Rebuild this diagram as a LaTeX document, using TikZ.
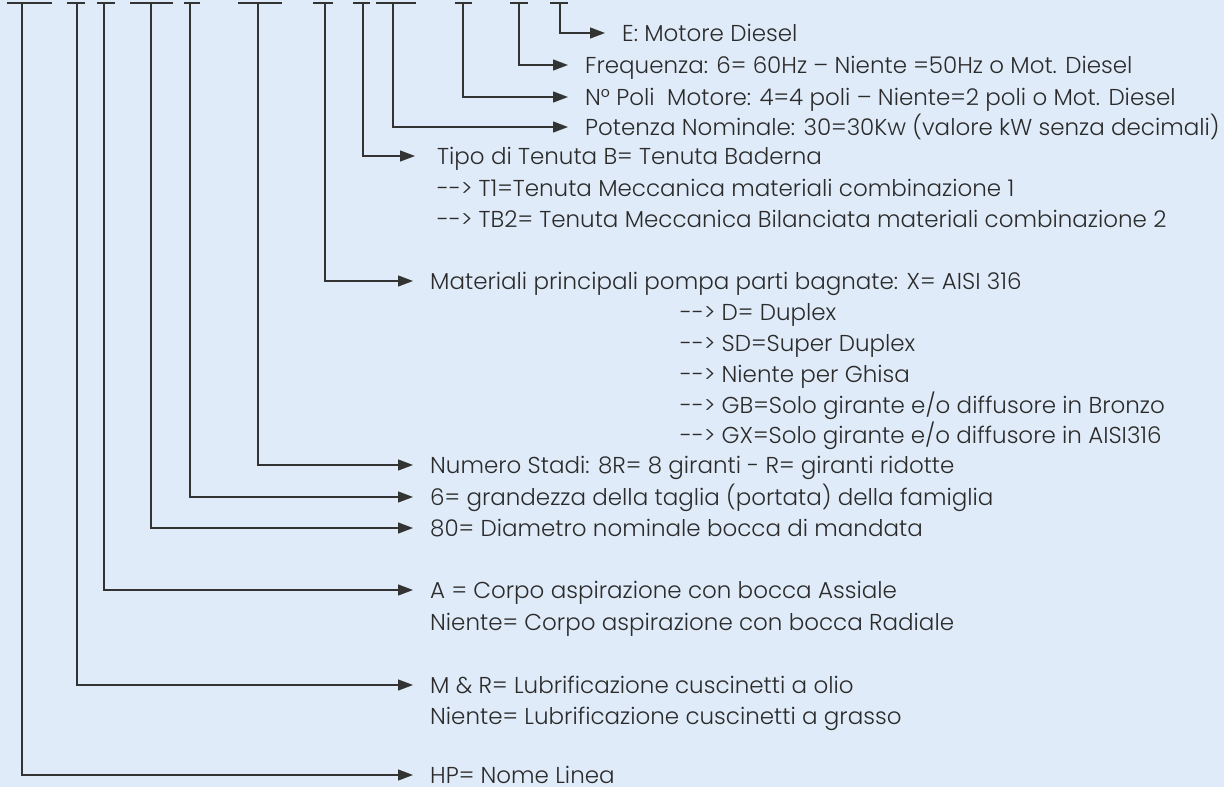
\documentclass[tikz,border=0pt]{standalone}
\usepackage{fontspec}
\setmainfont{Poppins Light}
\usepackage{tikz}
\usetikzlibrary{arrows.meta}
\definecolor{sfondo}{rgb}{0.875, 0.922, 0.973}
\definecolor{linea}{rgb}{0.2, 0.2, 0.2}
\definecolor{testo}{rgb}{0.17, 0.17, 0.17}
\tikzstyle{lbl}=[anchor=west,inner sep=0pt,text height=16pt,text depth=0pt,text=testo,font=\fontsize{23}{25}\selectfont]
\tikzstyle{conn}=[draw=linea,line width=1.3pt,-{Triangle[length=15pt,width=11pt]}]
\tikzstyle{bar}=[draw=linea,line width=1.3pt]

\begin{document}
\begin{tikzpicture}[x=1pt,y=-1pt]
\useasboundingbox[fill=sfondo] (0,0) rectangle (1224,787);
% barre in alto
\draw[bar] (7,3) -- (52,3);
\draw[bar] (67,3) -- (85,3);
\draw[bar] (97,3) -- (115,3);
\draw[bar] (130,3) -- (173,3);
\draw[bar] (184,3) -- (200,3);
\draw[bar] (238,3) -- (282,3);
\draw[bar] (313,3) -- (333,3);
\draw[bar] (353,3) -- (370,3);
\draw[bar] (376,3) -- (416,3);
\draw[bar] (455,3) -- (472,3);
\draw[bar] (510,3) -- (528,3);
\draw[bar] (550,3) -- (568,3);
\coordinate (tHP) at (22,3);
\coordinate (tMR) at (77,3);
\coordinate (tA) at (104,3);
\coordinate (tDN) at (151,3);
\coordinate (tTaglia) at (190,3);
\coordinate (tStadi) at (258,3);
\coordinate (tMat) at (325,3);
\coordinate (tTen) at (363,3);
\coordinate (tPot) at (393,3);
\coordinate (tPoli) at (463,3);
\coordinate (tFreq) at (519,3);
\coordinate (tMot) at (560,3);
% testi
\node[lbl] (lMot) at (622,33) {E: Motore Diesel};
\node[lbl] (lFreq) at (585,65) {Frequenza: 6= 60Hz -- Niente =50Hz o Mot. Diesel};
\node[lbl] (lPoli) at (585,97) {N° Poli\ \ Motore: 4=4 poli -- Niente=2 poli o Mot. Diesel};
\node[lbl] (lPot) at (585,127) {Potenza Nominale: 30=30Kw (valore kW senza decimali)};
\node[lbl] (lTen) at (437,156) {Tipo di Tenuta B= Tenuta Baderna};
\node[lbl] (lTenA) at (437,188) {-{}-> T1=Tenuta Meccanica materiali combinazione 1};
\node[lbl] (lTenB) at (437,219) {-{}-> TB2= Tenuta Meccanica Bilanciata materiali combinazione 2};
\node[lbl] (lMat) at (430,281) {Materiali principali pompa parti bagnate: X= AISI 316};
\node[lbl] (lMatD) at (680,312) {-{}-> D= Duplex};
\node[lbl] (lMatSD) at (680,343) {-{}-> SD=Super Duplex};
\node[lbl] (lMatN) at (680,374) {-{}-> Niente per Ghisa};
\node[lbl] (lMatGB) at (680,405) {-{}-> GB=Solo girante e/o diffusore in Bronzo};
\node[lbl] (lMatGX) at (680,435) {-{}-> GX=Solo girante e/o diffusore in AISI316};
\node[lbl] (lStadi) at (430,465) {Numero Stadi: 8R= 8 giranti - R= giranti ridotte};
\node[lbl] (lTaglia) at (430,497) {6= grandezza della taglia (portata) della famiglia};
\node[lbl] (lDN) at (430,528) {80= Diametro nominale bocca di mandata};
\node[lbl] (lA) at (430,590) {A = Corpo aspirazione con bocca Assiale};
\node[lbl] (lAb) at (430,622) {Niente= Corpo aspirazione con bocca Radiale};
\node[lbl] (lMR) at (430,685) {M \& R= Lubrificazione cuscinetti a olio};
\node[lbl] (lMRb) at (430,716) {Niente= Lubrificazione cuscinetti a grasso};
\node[lbl] (lHP) at (430,775) {HP= Nome Linea};
% frecce
\draw[conn] (tMot) |- ([xshift=-17pt]lMot.west);
\draw[conn] (tFreq) |- ([xshift=-17pt]lFreq.west);
\draw[conn] (tPoli) |- ([xshift=-17pt]lPoli.west);
\draw[conn] (tPot) |- ([xshift=-17pt]lPot.west);
\draw[conn] (tTen) |- ([xshift=-22pt]lTen.west);
\draw[conn] (tMat) |- ([xshift=-17pt]lMat.west);
\draw[conn] (tStadi) |- ([xshift=-17pt]lStadi.west);
\draw[conn] (tTaglia) |- ([xshift=-17pt]lTaglia.west);
\draw[conn] (tDN) |- ([xshift=-17pt]lDN.west);
\draw[conn] (tA) |- ([xshift=-17pt]lA.west);
\draw[conn] (tMR) |- ([xshift=-17pt]lMR.west);
\draw[conn] (tHP) |- ([xshift=-17pt]lHP.west);
\end{tikzpicture}
\end{document}
